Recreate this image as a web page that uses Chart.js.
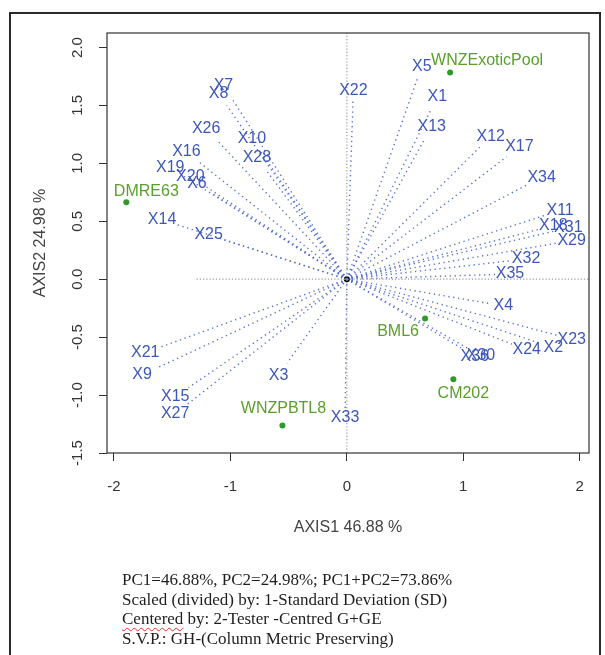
<!DOCTYPE html>
<html>
<head>
<meta charset="utf-8">
<script src="https://cdn.jsdelivr.net/npm/chart.js@4.4.1/dist/chart.umd.min.js"></script>
<style>
  html, body { margin: 0; padding: 0; background: #fff; }
  #wrap { position: relative; width: 605px; height: 655px; overflow: hidden; }
  #frame { position: absolute; left: 9px; top: 12px; width: 592px; height: 670px;
           border: 2px solid #2a2a2a; box-sizing: border-box; }
  #box { position: absolute; left: 0; top: 0; width: 605px; height: 655px; }
  #notes { position: absolute; left: 122px; top: 570px; color: #1e1e1e; white-space: nowrap;
           font-family: "Liberation Serif", "Times New Roman", serif; font-size: 17px; line-height: 19.5px; }
  .spell { text-decoration: underline wavy #e03030; text-decoration-thickness: 1px; text-underline-offset: 3px; }
</style>
</head>
<body>
<div id="wrap">
  <div id="frame"></div>
  <div id="box"><canvas id="biplot"></canvas></div>
  <div id="notes">
    PC1=46.88%, PC2=24.98%; PC1+PC2=73.86%<br>
    Scaled (divided) by: 1-Standard Deviation (SD)<br>
    <span class="spell">Centered</span> by: 2-Tester -Centred G+GE<br>
    S.V.P.: GH-(Column Metric Preserving)
  </div>
</div>
<script>
  /* GGE biplot, PC1 vs PC2
   * environment vectors (X1..X36) and genotype points
   */
  'use strict';

  var envNames = [
    'X1', 'X2', 'X3', 'X4', 'X5', 'X6', 'X7', 'X8', 'X9', 'X10',
    'X11', 'X12', 'X13', 'X14', 'X15', 'X16', 'X17', 'X18', 'X19', 'X20',
    'X21', 'X22', 'X23', 'X24', 'X25', 'X26', 'X27', 'X28', 'X29', 'X30',
    'X31', 'X32', 'X33', 'X34', 'X35', 'X36'
  ];
  var envX = [
    0.726, 1.645, -0.514, 1.216, 0.609, -1.171, -0.994, -1.031, -1.634, -0.746,
    1.703, 1.141, 0.672, -1.458, -1.360, -1.271, 1.373, 1.644, -1.400, -1.229,
    -1.603, 0.054, 1.802, 1.418, -1.058, -1.118, -1.367, -0.697, 1.803, 1.032,
    1.773, 1.413, -0.014, 1.551, 1.279, 0.980
  ];
  var envY = [
    1.470, -0.548, -0.726, -0.208, 1.740, 0.750, 1.571, 1.500, -0.768, 1.110,
    0.552, 1.139, 1.216, 0.471, -0.936, 1.012, 1.057, 0.429, 0.888, 0.811,
    -0.587, 1.558, -0.483, -0.560, 0.341, 1.203, -1.077, 0.947, 0.311, -0.593,
    0.413, 0.160, -1.126, 0.816, 0.041, -0.593
  ];

  var genoNames = ['WNZExoticPool', 'DMRE63', 'BML6', 'CM202', 'WNZPBTL8'];
  var genoX = [0.887, -1.894, 0.672, 0.915, -0.553];
  var genoY = [1.785, 0.665, -0.339, -0.864, -1.262];

  var xTicks = [-2, -1, 0, 1, 2];
  var yTicks = [-1.5, -1.0, -0.5, 0.0, 0.5, 1.0, 1.5, 2.0];

  // label placement for genotype names (pixels from the point)
  var genoLabelShift = [[37, -12], [20, -11], [-27, 13], [10, 14], [1, -17]];

  var SANS = '"Liberation Sans", Arial, sans-serif';
  var BLUE = '#3d57b9';
  var DOTS = '#5470d4';
  var GREEN_PT = '#2f9a2a';
  var GREEN_TXT = '#5a9f2b';

  var datasets = [];

  // reference axes through the origin
  datasets.push({
    data: [{ x: 0, y: -1.5 }, { x: 0, y: 2.125 }],
    showLine: true, borderColor: '#9a9a9a', borderWidth: 1.2, borderDash: [1.2, 2],
    pointRadius: 0
  });
  datasets.push({
    data: [{ x: -1.29, y: 0 }, { x: 2.08, y: 0 }],
    showLine: true, borderColor: '#9a9a9a', borderWidth: 1.2, borderDash: [1.2, 2],
    pointRadius: 0
  });

  envNames.forEach(function (name, i) {
    datasets.push({
      label: name,
      data: [{ x: 0, y: 0 }, { x: envX[i], y: envY[i] }],
      showLine: true, borderColor: DOTS, borderWidth: 1.4, borderDash: [1.3, 3.6],
      pointRadius: 0
    });
  });

  datasets.push({
    label: 'genotypes',
    data: genoNames.map(function (n, i) { return { x: genoX[i], y: genoY[i] }; }),
    pointRadius: 3, pointBackgroundColor: GREEN_PT, pointBorderWidth: 0
  });
  datasets.push({
    label: 'origin',
    data: [{ x: 0, y: 0 }],
    pointRadius: 3, pointBackgroundColor: '#000', pointBorderWidth: 0
  });

  var biplotText = {
    id: 'biplotText',
    afterDatasetsDraw: function (chart) {
      var ctx = chart.ctx;
      var xs = chart.scales.x;
      var ys = chart.scales.y;
      var a = chart.chartArea;
      ctx.save();

      // plot box
      ctx.strokeStyle = '#333';
      ctx.lineWidth = 1.2;
      ctx.strokeRect(a.left, a.top, a.right - a.left, a.bottom - a.top);

      // environment labels pushed out along each vector
      ctx.font = '16px ' + SANS;
      ctx.fillStyle = BLUE;
      ctx.textAlign = 'center';
      ctx.textBaseline = 'middle';
      envNames.forEach(function (name, i) {
        var ox = xs.getPixelForValue(0), oy = ys.getPixelForValue(0);
        var ex = xs.getPixelForValue(envX[i]), ey = ys.getPixelForValue(envY[i]);
        var dx = ex - ox, dy = ey - oy;
        var len = Math.sqrt(dx * dx + dy * dy) || 1;
        var ux = dx / len, uy = dy / len;
        var s = 14 * Math.abs(ux) + 8 * Math.abs(uy);
        ctx.fillText(name, ex + s * ux, ey + s * uy);
      });

      // genotype labels
      ctx.font = '16px ' + SANS;
      ctx.fillStyle = GREEN_TXT;
      genoNames.forEach(function (name, i) {
        var px = xs.getPixelForValue(genoX[i]) + genoLabelShift[i][0];
        var py = ys.getPixelForValue(genoY[i]) + genoLabelShift[i][1];
        ctx.fillText(name, px, py);
      });

      // y tick labels, rotated like R's default axis
      ctx.font = '15px ' + SANS;
      ctx.fillStyle = '#333';
      yTicks.forEach(function (v) {
        ctx.save();
        ctx.translate(a.left - 29, ys.getPixelForValue(v));
        ctx.rotate(-Math.PI / 2);
        ctx.fillText(v.toFixed(1), 0, 0);
        ctx.restore();
      });
      ctx.restore();
    }
  };

  new Chart(document.getElementById('biplot'), {
    type: 'scatter',
    data: { datasets: datasets },
    plugins: [biplotText],
    options: {
      responsive: true,
      maintainAspectRatio: false,
      animation: false,
      layout: { padding: { left: 0, top: 33, right: 16, bottom: 0 } },
      plugins: {
        legend: { display: false },
        tooltip: { enabled: false }
      },
      scales: {
        x: {
          type: 'linear',
          min: -2.06,
          max: 2.08,
          afterBuildTicks: function (s) {
            s.ticks = xTicks.map(function (v) { return { value: v }; });
          },
          afterFit: function (s) { s.height = 202; },
          border: { display: false },
          grid: { drawOnChartArea: false, drawTicks: true, tickLength: 8, color: '#333', lineWidth: 1 },
          ticks: {
            padding: 17, color: '#333', font: { family: SANS, size: 15 },
            callback: function (v) { return String(v); }
          },
          title: {
            display: true, text: 'AXIS1 46.88 %', color: '#444',
            font: { family: SANS, size: 16 }, padding: { top: 0, bottom: 118 }
          }
        },
        y: {
          type: 'linear',
          min: -1.5,
          max: 2.125,
          afterBuildTicks: function (s) {
            s.ticks = yTicks.map(function (v) { return { value: v }; });
          },
          afterFit: function (s) { s.width = 107; },
          border: { display: false },
          grid: { drawOnChartArea: false, drawTicks: true, tickLength: 8, color: '#333', lineWidth: 1 },
          ticks: { display: false },
          title: {
            display: true, text: 'AXIS2 24.98 %', color: '#444',
            font: { family: SANS, size: 16 }, padding: { top: 31, bottom: 0 }
          }
        }
      }
    }
  });
</script>
</body>
</html>
